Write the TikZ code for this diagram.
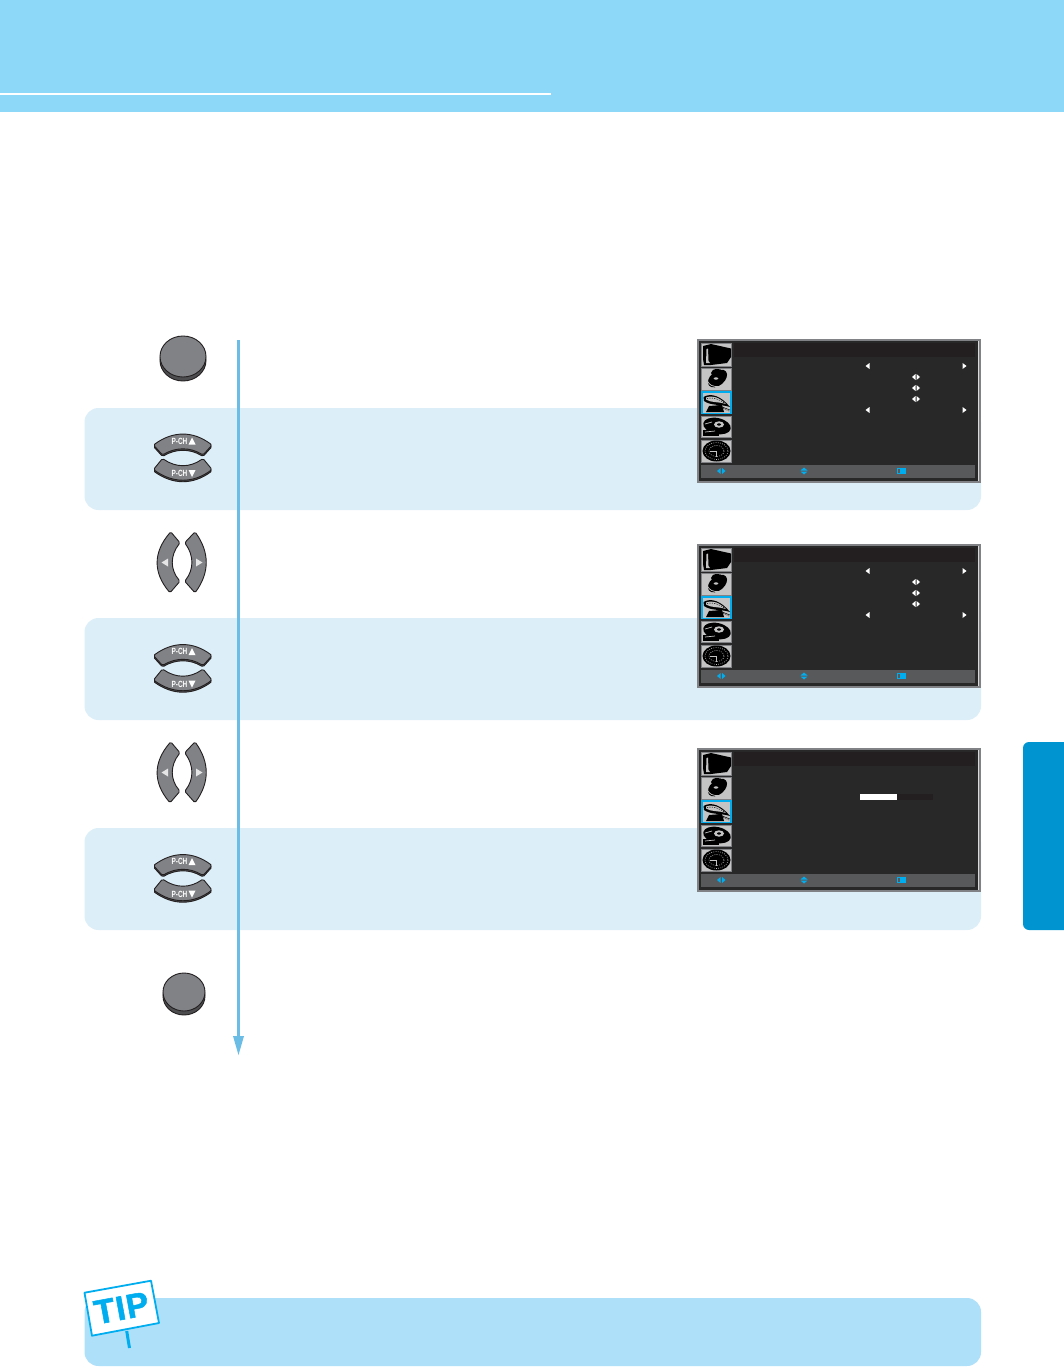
\documentclass[tikz,border=0pt]{standalone}
\usepackage{fontspec}
\setmainfont{Liberation Sans}
\newfontfamily\pchfont[FakeStretch=0.72]{Liberation Sans}
\newfontfamily\tipfont[LetterSpace=3,FakeBold=1.5]{Liberation Sans}
\definecolor{headblue}{HTML}{8DD8F9}
\definecolor{bandblue}{HTML}{DCEEF8}
\definecolor{tipblue}{HTML}{AEE0FA}
\definecolor{tabblue}{HTML}{0095D0}
\definecolor{cyanb}{HTML}{00AEEF}
\definecolor{flowblue}{HTML}{6BBDE6}
\definecolor{scrdark}{HTML}{282828}
\definecolor{scrtitle}{HTML}{231F20}
\definecolor{scrbar}{HTML}{58595B}
\definecolor{scredge}{HTML}{808285}
\definecolor{btnface}{HTML}{808285}
\definecolor{btnshade}{HTML}{4D4D4F}
\definecolor{btnline}{HTML}{231F20}
\definecolor{iconbg}{HTML}{C4C4C4}
\tikzset{
  x=1pt,y=-1pt,
  bandfill/.style={fill=bandblue,rounded corners=14pt},
  btnpart/.style={fill=btnface,draw=btnline,line width=.9pt,rounded corners=1.5pt,line join=round},
  btnshadow/.style={fill=btnshade,draw=btnline,line width=.9pt,rounded corners=1.5pt,line join=round},
  pchlabel/.style={text=white,font=\pchfont\bfseries\fontsize{9}{9}\selectfont,inner sep=0pt},
  iconbox/.style={fill=iconbg,draw=scredge,line width=.8pt},
  iconsel/.style={fill=iconbg,draw=cyanb,line width=1.6pt},
}
\newcommand{\roundbtn}[4]{%
  \fill[btnshade,draw=btnline,line width=.9pt] (#1,#2+4) ellipse [x radius=#3,y radius=#4];
  \fill[btnface,draw=btnline,line width=.9pt] (#1,#2) ellipse [x radius=#3,y radius=#4];
}
\newcommand{\pchpair}[1]{%
\begin{scope}[shift={(183,#1)}]
  \path[btnshadow] (-29.5,-12) .. controls (-10,-26.3) and (10,-26.3) .. (29,-12) -- (20,-2) .. controls (7,-10) and (-7,-10) .. (-20.5,-2) -- cycle;
  \path[btnpart] (-29.5,-13.5) .. controls (-10,-27.8) and (10,-27.8) .. (29,-13.5) -- (20,-3.5) .. controls (7,-11.5) and (-7,-11.5) .. (-20.5,-3.5) -- cycle;
  \path[btnshadow] (-20.5,1.5) .. controls (-7,10.8) and (7,10.8) .. (20,1.5) -- (29,12.5) .. controls (10,26.5) and (-10,26.5) .. (-29.5,12.5) -- cycle;
  \path[btnpart] (-20.5,0) .. controls (-7,9.3) and (7,9.3) .. (20,0) -- (29,11) .. controls (10,25) and (-10,25) .. (-29.5,11) -- cycle;
  \node[pchlabel] at (-3.5,-17.5) {P-CH};
  \fill[white] (5.5,-14) -- (9,-21) -- (12.5,-14) -- cycle;
  \node[pchlabel] at (-3.5,15) {P-CH};
  \fill[white] (5.5,11.5) -- (12.5,11.5) -- (9,18.5) -- cycle;
\end{scope}}
\newcommand{\lrpair}[1]{%
\begin{scope}[shift={(182,#1)}]
  \path[btnpart] (-11.3,-30.7) .. controls (-29,-10) and (-29,10) .. (-12,30.3) -- (-2,18.7) .. controls (-12,7) and (-12,-7) .. (-2,-19.7) -- cycle;
  \path[btnpart] (13,-30.7) .. controls (27.7,-10) and (27.7,10) .. (13,30.3) -- (2.7,18.7) .. controls (12,7) and (12,-7) .. (2.7,-19.7) -- cycle;
  \fill[white!90!black] (-20.5,0) -- (-14,-4) -- (-14,4) -- cycle;
  \fill[white!90!black] (14,-4) -- (14,4) -- (20.5,0) -- cycle;
\end{scope}}
\newcommand{\tl}[2]{\fill[white] (#1-2.5,#2) -- (#1+1.5,#2-3) -- (#1+1.5,#2+3) -- cycle;}
\newcommand{\tr}[2]{\fill[white] (#1+2.5,#2) -- (#1-1.5,#2-3) -- (#1-1.5,#2+3) -- cycle;}
\newcommand{\tlr}[2]{%
  \fill[white] (#1-4,#2) -- (#1-.5,#2-3) -- (#1-.5,#2+3) -- cycle;
  \fill[white] (#1+4,#2) -- (#1+.5,#2-3) -- (#1+.5,#2+3) -- cycle;}
\newcommand{\menuframe}{%
  \fill[scredge] (0,0) rectangle (284,144);
  \fill[scrdark] (2,2) rectangle (281,142);
  \fill[white!85!black] (281,2) rectangle (282,142);
  \fill[scrtitle] (37,4) rectangle (278,18);
  \path[iconbox] (4.5,4.5) rectangle (34.5,27);
  \path[iconbox] (4.5,29) rectangle (34.5,51);
  \path[iconsel] (4.8,53) rectangle (34,74.5);
  \path[iconbox] (4.5,77) rectangle (34.5,98);
  \path[iconbox] (4.5,101) rectangle (34.5,123);
  % icon 1
  \fill[black] (6,7) -- (14,5) -- (34,9.5) -- (34,18) -- (30,24) -- (14,26) -- (7,26) -- (6,20) -- cycle;
  \fill[iconbg] (9.5,10) -- (11,9.5) -- (11.5,22) -- (13,24) -- (9,24) -- cycle;
  % icon 2
  \fill[black,rotate around={40:(20.5,39.5)}] (20.5,39.5) ellipse [x radius=11,y radius=7];
  \fill[black] (20,34) ellipse [x radius=6,y radius=4];
  \fill[iconbg] (19,39.5) ellipse [x radius=2.3,y radius=1.2];
  \draw[iconbg,line width=.7pt] (10.5,42) .. controls (12,46) and (16,48) .. (22,47.5);
  % icon 3
  \fill[black] (12,67) -- (25,66) -- (27,73) -- (9,73) -- cycle;
  \fill[black] (6.5,58) .. controls (14,53.5) and (24,57) .. (33,68) .. controls (24,65) and (14,67) .. (7,62) -- cycle;
  \fill[iconbg] (9,58.5) .. controls (16,56) and (22,58.5) .. (29,65) .. controls (22,62.5) and (14,64) .. (9,60.5) -- cycle;
  \draw[black,line width=.5pt,dash pattern=on 1.2pt off 1.2pt] (10,59.5) .. controls (16,58) and (22,60) .. (28,64.5);
  \draw[black,line width=.5pt] (20,66) -- (33,71);
  \draw[black,line width=.5pt,dash pattern=on 1pt off 1pt] (26,69) -- (33,72.5);
  % icon 4
  \fill[black,rotate around={-12:(20,87)}] (20,87) ellipse [x radius=14,y radius=8];
  \fill[black] (5.5,91) rectangle (22,97);
  \fill[iconbg] (22,85.5) ellipse [x radius=5,y radius=3.2];
  \fill[black] (22,85.5) ellipse [x radius=2,y radius=1.2];
  \draw[iconbg,line width=.7pt] (8,85) -- (15,83);
  \draw[iconbg,line width=.7pt] (8,93) -- (18,92);
  % icon 5
  \fill[black] (19.5,112) ellipse [x radius=14,y radius=10.5];
  \draw[iconbg,line width=.6pt,dash pattern=on .8pt off 1.4pt] (19.5,112) ellipse [x radius=11.5,y radius=8.5];
  \draw[iconbg,line width=.6pt,dash pattern=on .8pt off 1.4pt] (19.5,112) ellipse [x radius=7.5,y radius=5.5];
  \draw[iconbg,line width=.4pt] (19.5,112) -- (19.5,118);
  \draw[iconbg,line width=.4pt] (13,112) -- (19.5,112);
  % bottom bar
  \fill[scrbar] (4,126) rectangle (278,139);
  \fill[cyanb] (20,132) -- (23.6,129) -- (23.6,135) -- cycle;
  \fill[cyanb] (28.5,132) -- (25,129) -- (25,135) -- cycle;
  \fill[cyanb] (107,128.5) -- (110.5,131.5) -- (103.5,131.5) -- cycle;
  \fill[cyanb] (107,135.5) -- (110.5,132.5) -- (103.5,132.5) -- cycle;
  \fill[cyanb] (200,129) rectangle (208.5,135);
  \fill[scrbar] (201,130) rectangle (202.5,134);
}
\newcommand{\menuarrows}{%
  \tl{171}{27}\tr{267}{27}
  \tlr{219}{38}\tlr{219}{49}\tlr{219}{60}
  \tl{171}{71}\tr{267}{71}
}
\begin{document}
\begin{tikzpicture}
\useasboundingbox (0,0) rectangle (1064,1367);
\fill[white] (0,0) rectangle (1064,1367);
\fill[headblue] (0,0) rectangle (1064,112.5);
\fill[white] (0,93) rectangle (550.5,95);
\begin{scope}
  \clip (0,0) rectangle (1064,1367);
  \fill[tabblue,rounded corners=6pt] (1023,742) rectangle (1090,930);
\end{scope}
\path[bandfill] (84.5,408) rectangle (981,510);
\path[bandfill] (84.5,618) rectangle (981,720);
\path[bandfill] (84.5,828) rectangle (981,930);
\fill[tipblue,rounded corners=14pt] (84.5,1298) rectangle (981,1366);
\coordinate (flowstart) at (238.5,340);
\coordinate (flowend) at (238.5,1055);
\draw[flowblue,line width=2.8pt] (flowstart) -- (238.5,1040);
\fill[flowblue] (flowend) -- (233,1036) -- (244,1036) -- cycle;
\roundbtn{183}{356.5}{23}{20.5}
\pchpair{458.5}
\lrpair{562.5}
\pchpair{669}
\lrpair{772.5}
\pchpair{879}
\roundbtn{184}{992}{21}{19}
\begin{scope}[shift={(697,339)}]\menuframe\menuarrows\end{scope}
\begin{scope}[shift={(697,544)}]\menuframe\menuarrows\end{scope}
\begin{scope}[shift={(697,748)}]\menuframe
  \fill[scrtitle] (163,46) rectangle (236,52);
  \fill[white] (163,46) rectangle (200,52);
\end{scope}
\coordinate (stemtop) at (126.7,1331);
\coordinate (stemend) at (129.5,1348);
\draw[cyanb,line width=3pt] (stemtop) -- (stemend);
\path[fill=white,draw=cyanb,line width=1.8pt,line join=round] (84.5,1292.7) -- (151,1280.7) -- (159,1323) -- (92,1335.7) -- cycle;
\node[rotate=10.5,text=cyanb,inner sep=0pt,font=\tipfont\bfseries\fontsize{34}{34}\selectfont] (tip) at (121.5,1308) {TIP};
\end{tikzpicture}
\end{document}
